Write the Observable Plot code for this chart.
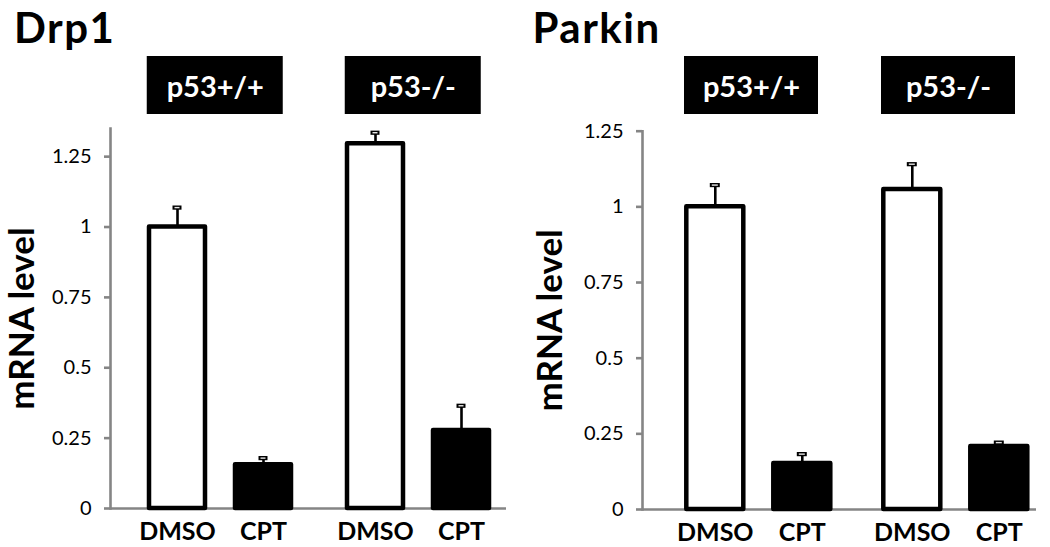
<!DOCTYPE html>
<html><head><meta charset="utf-8">
<script src="https://cdn.jsdelivr.net/npm/d3@7"></script>
<script src="https://cdn.jsdelivr.net/npm/@observablehq/plot@0.6"></script>
<style>
body{margin:0;background:#fff;font-family:Lato,sans-serif}
#wrap{position:relative;width:1050px;height:547px;overflow:hidden;background:#fff}
.panel{position:absolute;top:0;width:525px;height:547px}
.panel svg{display:block}
.title{position:absolute;top:5.7px;font-family:Lato,sans-serif;font-weight:bold;font-size:42px;line-height:42px;letter-spacing:1.5px;margin:0;color:#000;z-index:2}
</style></head><body><div id="wrap"></div>
<script>
const groups = ["p53+/+", "p53-/-"];
const treatments = ["DMSO", "CPT"];
const yTicks = [0, 0.25, 0.5, 0.75, 1, 1.25];
const drp1Mean = [1.0, 0.155, 1.296, 0.277];
const drp1Err  = [0.069, 0.024, 0.039, 0.088];
const parkinMean = [1.0, 0.152, 1.057, 0.208];
const parkinErr  = [0.072, 0.031, 0.084, 0.013];
const yLabel = "mRNA level";
const titles = ["Drp1", "Parkin"];

function makeRows(means, errs) {
  return groups.flatMap((g, i) => treatments.map((t, j) => ({group: g, treatment: t, mean: means[i * 2 + j], err: errs[i * 2 + j]})));
}

const panels = [
  {title: titles[0], rows: makeRows(drp1Mean, drp1Err), left: 0, titleLeft: 14, yMax: 1.35, mL: 109, mR: 19, mT: 12, mB: 39, xAlign: 0.691, xPadOuter: 0.3158, boxL: 36.75, boxR: 25.25, labelOffset: 101.8},
  {title: titles[1], rows: makeRows(parkinMean, parkinErr), left: 525, titleLeft: 7.5, yMax: 1.25, mL: 116.7, mR: 13.3, mT: 14.7, mB: 38, xAlign: 0.83, xPadOuter: 0.3036, boxL: 42, boxR: 21, labelOffset: 105.2}
];

const wrap = document.getElementById("wrap");
const gray = "#858585";

for (const p of panels) {
  const div = document.createElement("div");
  div.className = "panel";
  div.style.left = p.left + "px";

  const header = Plot.plot({
    width: 525, height: 116,
    marginLeft: p.mL, marginRight: p.mR, marginTop: 56, marginBottom: 2,
    style: {background: "transparent", fontFamily: "Lato, sans-serif", overflow: "visible"},
    x: {domain: groups, padding: 0, axis: null},
    marks: [
      Plot.cell(groups, {x: d => d, fill: "black", insetLeft: p.boxL, insetRight: p.boxR}),
      Plot.text(groups, {x: d => d, text: d => d, fill: "white", fontSize: 29, fontWeight: "bold", dx: (p.boxL - p.boxR) / 2, dy: 2})
    ]
  });

  const data = p.rows;
  const errTop = d => d.mean + d.err;
  const chart = Plot.plot({
    width: 525, height: 431,
    marginLeft: p.mL, marginRight: p.mR, marginTop: p.mT, marginBottom: p.mB,
    style: {background: "transparent", fontFamily: "Lato, sans-serif", overflow: "visible", color: "black"},
    fx: {domain: groups, padding: 0, axis: null, label: null},
    x: {domain: treatments, paddingInner: 0.35, paddingOuter: p.xPadOuter, align: p.xAlign, axis: null},
    y: {domain: [0, p.yMax], axis: null},
    marks: [
      Plot.ruleY([0], {stroke: gray, strokeWidth: 2.6}),
      Plot.frame({anchor: "left", facetAnchor: "left", stroke: gray, strokeWidth: 2.6}),
      Plot.axisY({ticks: yTicks.filter(t => t <= p.yMax), tickFormat: d => String(d), tickSize: 6, tickPadding: 13, stroke: gray, strokeWidth: 2.6, fill: "black", fontSize: 20, label: null}),
      Plot.axisY({ticks: [], tickSize: 0, label: yLabel, labelAnchor: "center", labelArrow: "none", labelOffset: p.labelOffset, fontSize: 35, fontWeight: "bold", fill: "black"}),
      Plot.barY(data.filter(d => d.treatment === "DMSO"), {fx: "group", x: "treatment", y: "mean", fill: "white", stroke: "black", strokeWidth: 4.5, strokeLinejoin: "round"}),
      Plot.barY(data.filter(d => d.treatment === "CPT"), {fx: "group", x: "treatment", y: "mean", fill: "black", stroke: "black", strokeWidth: 4.5, strokeLinejoin: "round"}),
      Plot.ruleX(data, {fx: "group", x: "treatment", y1: "mean", y2: errTop, stroke: "black", strokeWidth: 2.6}),
      Plot.tickY(data, {fx: "group", x: "treatment", y: errTop, stroke: "black", strokeWidth: 4.2, insetLeft: 23.5, insetRight: 23.5}),
      Plot.tickY(data, {fx: "group", x: "treatment", y: errTop, stroke: "#e8e8e8", strokeWidth: 1.4, insetLeft: 25.5, insetRight: 25.5}),
      Plot.axisX({tickSize: 0, tickPadding: 13.5, fontSize: 25, fontWeight: "bold", fill: "black", label: null})
    ]
  });

  const title = document.createElement("div");
  title.className = "title";
  title.style.left = p.titleLeft + "px";
  title.textContent = p.title;

  div.appendChild(header);
  div.appendChild(chart);
  div.appendChild(title);
  wrap.appendChild(div);
}
</script>
</body></html>
